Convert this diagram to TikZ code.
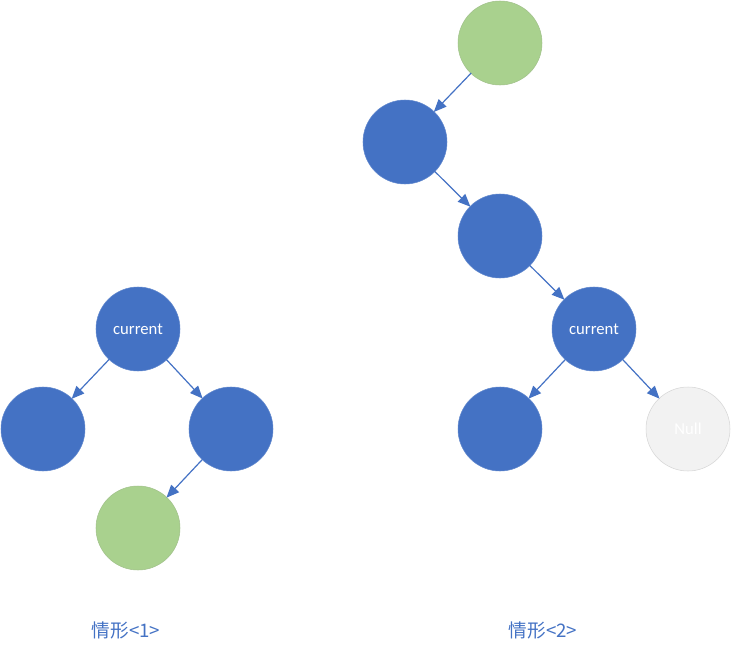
\documentclass[tikz,border=0pt]{standalone}
\usepackage{fontspec}
\setsansfont{Carlito}
\newfontfamily\cjk{Noto Sans CJK SC}
\usetikzlibrary{arrows.meta}
\definecolor{nodeblue}{HTML}{4472C4}
\definecolor{nodegreen}{HTML}{A9D18E}
\definecolor{nullgray}{HTML}{F2F2F2}
\definecolor{nullrim}{HTML}{D6D6D6}
\tikzset{
  bluenode/.style={circle, fill=nodeblue, draw=nodeblue!85!white, minimum size=63pt, inner sep=0pt, text=white, font=\sffamily\fontsize{12.5}{14}\selectfont},
  greennode/.style={bluenode, fill=nodegreen, draw=nodegreen!80!gray},
  nullnode/.style={bluenode, fill=nullgray, draw=nullrim},
  link/.style={draw=nodeblue, line width=0.9pt, -{Triangle[length=9.5pt,width=8pt]}, shorten <=-0.5pt, shorten >=-0.5pt},
  caption/.style={text=nodeblue, font=\cjk\fontsize{14}{16}\selectfont}
}
\begin{document}
\begin{tikzpicture}[x=0.75pt,y=0.75pt,yscale=-1,xscale=1]
            \useasboundingbox (0, 0) rectangle (732, 653);
            %case 1
            \node [bluenode] (cur1) at (138, 329) {current};
            \node [bluenode] (left1) at (43, 429) {};
            \node [bluenode] (right1) at (231, 429) {};
            \node [greennode] (succ1) at (138, 528) {};
            \draw [link] (cur1) -- (left1);
            \draw [link] (cur1) -- (right1);
            \draw [link] (right1) -- (succ1);
            \node [caption] (cap1) at (126, 630) {情形<1>};
            %
            %case 2
            \node [greennode] (succ2) at (500, 43) {};
            \node [bluenode] (a2) at (405, 142) {};
            \node [bluenode] (b2) at (500, 236) {};
            \node [bluenode] (cur2) at (594, 329) {current};
            \node [bluenode] (left2) at (500, 429) {};
            \node [nullnode] (null2) at (688, 429) {Null};
            \draw [link] (succ2) -- (a2);
            \draw [link] (a2) -- (b2);
            \draw [link] (b2) -- (cur2);
            \draw [link] (cur2) -- (left2);
            \draw [link] (cur2) -- (null2);
            \node [caption] (cap2) at (543, 630) {情形<2>};
            %
        \end{tikzpicture}
\end{document}
